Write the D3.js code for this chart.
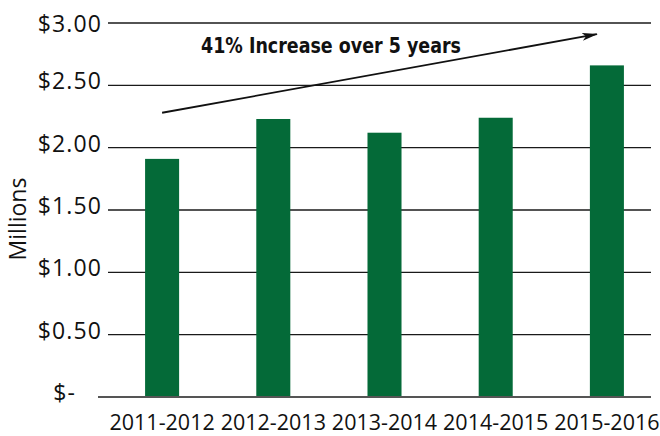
<!DOCTYPE html>
<html>
<head>
<meta charset="utf-8">
<script src="https://cdn.jsdelivr.net/npm/d3@7/dist/d3.min.js"></script>
<style>
  html, body { margin: 0; padding: 0; background: #fff; }
  svg { display: block; }
</style>
</head>
<body>
<svg id="chart" width="660" height="436"></svg>
<script>
const categories = ["2011-2012", "2012-2013", "2013-2014", "2014-2015", "2015-2016"];
const values = [1.91, 2.23, 2.12, 2.24, 2.66];
const tickValues = [0, 0.5, 1, 1.5, 2, 2.5, 3];
const tickLabels = ["$-", "$0.50", "$1.00", "$1.50", "$2.00", "$2.50", "$3.00"];
const annotationText = "41% Increase over 5 years";
const arrowFrom = 2.28, arrowTo = 2.91;

const svg = d3.select("#chart");

const y = d3.scaleLinear().domain([0, 3]).range([397, 23]);
const x = d3.scaleBand().domain(categories)
  .range([106.5, 662.5]).paddingInner(0.694).paddingOuter(0.347);

const gridLeft = 108, gridRight = 651;

// gridlines
svg.append("g").selectAll("line")
  .data(tickValues.filter(v => v > 0))
  .join("line")
  .attr("x1", gridLeft).attr("x2", gridRight)
  .attr("y1", d => y(d)).attr("y2", d => y(d))
  .attr("stroke", "#1a1a1a").attr("stroke-width", 1.4);

// bars
svg.append("g").selectAll("rect")
  .data(values)
  .join("rect")
  .attr("x", (d, i) => x(categories[i]))
  .attr("width", x.bandwidth())
  .attr("y", d => y(d))
  .attr("height", d => y(0) - y(d))
  .attr("fill", "#046a38");

// baseline
svg.append("line")
  .attr("x1", 98).attr("x2", gridRight)
  .attr("y1", y(0)).attr("y2", y(0))
  .attr("stroke", "#555").attr("stroke-width", 1.8);

// y labels
svg.append("g").selectAll("text")
  .data(tickValues)
  .join("text")
  .attr("x", (d, i) => d === 0 ? 76 : 102)
  .attr("y", d => y(d) - (d === 3 ? 0 : 5))
  .attr("text-anchor", "end")
  .attr("dominant-baseline", "central")
  .attr("font-family", "'Open Sans', 'Noto Sans', sans-serif")
  .attr("font-size", 23)
  .attr("letter-spacing", "1.1px")
  .attr("fill", "#111")
  .text((d, i) => tickLabels[i]);

// x labels
svg.append("g").selectAll("text")
  .data(categories)
  .join("text")
  .attr("x", d => x(d) + x.bandwidth() / 2)
  .attr("y", 430)
  .attr("text-anchor", "middle")
  .attr("font-family", "'Open Sans', 'Noto Sans', sans-serif")
  .attr("font-size", 21.5)
  .attr("fill", "#111")
  .text(d => d);

// y axis title
svg.append("text")
  .attr("transform", "translate(26,219) rotate(-90)")
  .attr("text-anchor", "middle")
  .attr("font-family", "'Open Sans', 'Noto Sans', sans-serif")
  .attr("font-size", 23)
  .attr("fill", "#111")
  .text("Millions");

// arrow
const defs = svg.append("defs");
defs.append("marker")
  .attr("id", "ah")
  .attr("viewBox", "0 0 16 8")
  .attr("refX", 15).attr("refY", 4)
  .attr("markerWidth", 16).attr("markerHeight", 8)
  .attr("markerUnits", "userSpaceOnUse")
  .attr("orient", "auto")
  .append("path")
  .attr("d", "M0,0 L16,4 L0,8 L4,4 Z")
  .attr("fill", "#111");

const xStart = x(categories[0]) + x.bandwidth() / 2;
const xEnd = x(categories[4]) + x.bandwidth() / 2 - 10;
svg.append("line")
  .attr("x1", xStart).attr("y1", y(arrowFrom))
  .attr("x2", xEnd).attr("y2", y(arrowTo))
  .attr("stroke", "#111").attr("stroke-width", 1.8)
  .attr("marker-end", "url(#ah)");

svg.append("text")
  .attr("x", 201).attr("y", 53)
  .attr("font-family", "'Liberation Sans Narrow', 'DejaVu Sans Condensed', 'Open Sans', sans-serif")
  .attr("font-weight", "bold")
  .attr("font-size", 21)
  .attr("textLength", 260)
  .attr("lengthAdjust", "spacingAndGlyphs")
  .attr("fill", "#111")
  .text(annotationText);
</script>
</body>
</html>
